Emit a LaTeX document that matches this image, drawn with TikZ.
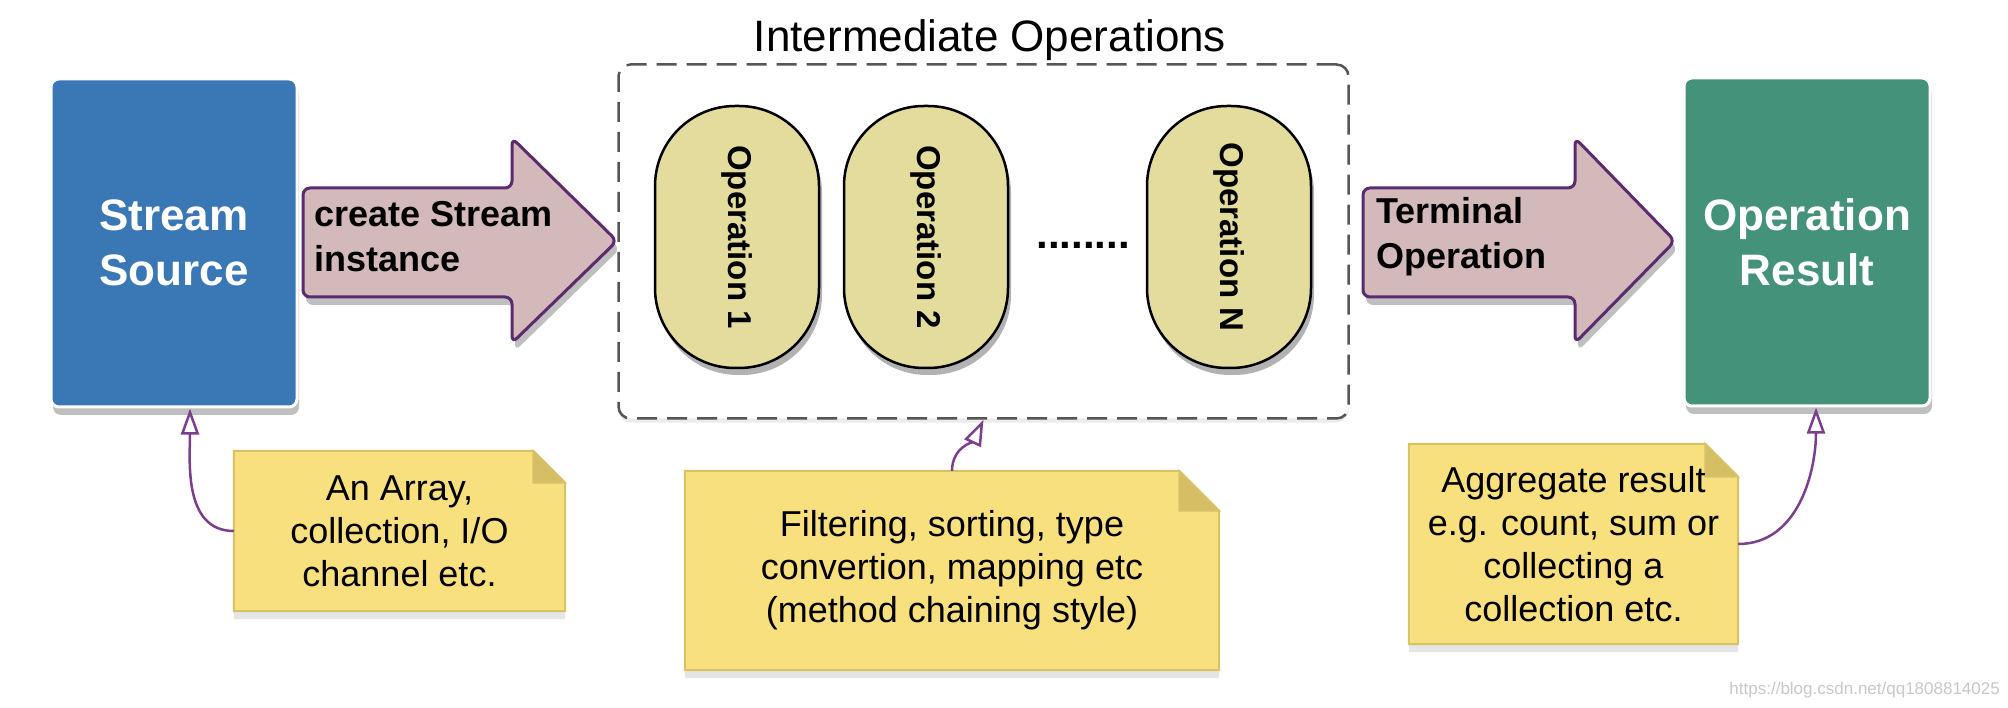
\documentclass[tikz,border=0pt]{standalone}
\usepackage{fontspec}
\usepackage{graphicx}
\setmainfont{Liberation Sans}
\usetikzlibrary{shadows,arrows.meta,backgrounds}

\definecolor{srcblue}{HTML}{3A78B5}
\definecolor{resgreen}{HTML}{45927A}
\definecolor{arrowfill}{HTML}{D3B9BA}
\definecolor{arrowline}{HTML}{5C2A6E}
\definecolor{capfill}{HTML}{E3DC9C}
\definecolor{notefill}{HTML}{F9E07F}
\definecolor{noteline}{HTML}{D8C267}
\definecolor{notefold}{HTML}{D5BE63}
\definecolor{linkcol}{HTML}{7B3F8E}
\definecolor{dashcol}{HTML}{555555}
\definecolor{wmgray}{HTML}{C8C8C8}

\tikzset{
  bigbox/.style={draw=white, line width=3pt, rounded corners=8pt,
    minimum width=246pt, minimum height=328pt, text=white, align=center,
    font=\fontsize{44}{55}\selectfont\bfseries,
    drop shadow={shadow xshift=2pt, shadow yshift=-8pt, opacity=0.25, fill=black}},
  ibox/.style={draw=dashcol, line width=2.5pt, dash pattern=on 20pt off 10pt,
    rounded corners=12pt, fill=white, minimum width=730pt, minimum height=354pt,
    drop shadow={shadow xshift=0pt, shadow yshift=-4pt, opacity=0.08, fill=black}},
  titletext/.style={font=\fontsize{44}{52}\selectfont, inner sep=0pt},
  capsule/.style={draw=black, line width=2.5pt, fill=capfill, rounded corners=80pt,
    minimum width=164pt, minimum height=262pt, inner sep=0pt,
    font=\fontsize{33}{40}\selectfont\bfseries,
    drop shadow={shadow xshift=3pt, shadow yshift=-7pt, opacity=0.3, fill=black}},
  dotstext/.style={font=\fontsize{42}{50}\selectfont\bfseries, inner sep=0pt},
  bigarrow/.style={draw=arrowline, line width=3pt, fill=arrowfill, rounded corners=7pt,
    drop shadow={shadow xshift=3pt, shadow yshift=-8pt, opacity=0.25, fill=black}},
  arrowtext/.style={font=\fontsize{36}{45}\selectfont\bfseries, align=left, inner sep=0pt},
  notetext/.style={font=\fontsize{36}{43}\selectfont, align=center, inner sep=0pt},
  notebody/.style={fill=notefill, draw=noteline, line width=2pt,
    drop shadow={shadow xshift=0pt, shadow yshift=-8pt, opacity=0.1, fill=black}},
  notefoldst/.style={fill=notefold, draw=noteline, line width=1.5pt},
  link/.style={draw=linkcol, line width=2.5pt,
    -{Triangle[length=26pt, width=18pt, fill=white, line width=2.5pt]}},
}

\begin{document}
\begin{tikzpicture}[x=1pt,y=-1pt]
\useasboundingbox (0,0) rectangle (2008,708);

% intermediate container
\node[ibox] (ibox) at (983.5,241.5) {};
\node[titletext, anchor=base] (title) at (990,52) {Intermediate Operations};

% source and result boxes
\node[bigbox, fill=srcblue] (src) at (174,243) {Stream\\Source};
\node[bigbox, fill=resgreen] (res) at (1807,242) {Operation\\Result};

% operations
\node[capsule] (op1) at (737,237) {\rotatebox{-90}{Operation 1}};
\node[capsule] (op2) at (926,237) {\rotatebox{-90}{Operation 2}};
\node[capsule] (opn) at (1229,237) {\rotatebox{-90}{Operation N}};
\node[dotstext, anchor=base] (dots) at (1083,249) {........};

% big arrows
\coordinate (a1s) at (303,242);
\coordinate (a1t) at (617,241);
\draw[bigarrow] (303,188) -- (512,188) -- (512,138) -- (a1t) -- (512,343) -- (512,297) -- (303,297) -- cycle;
\node[arrowtext, anchor=west] (lab1) at (314,237) {create Stream\\instance};

\coordinate (a2s) at (1363,242);
\coordinate (a2t) at (1675,241);
\draw[bigarrow] (1363,188) -- (1575,188) -- (1575,138) -- (a2t) -- (1575,343) -- (1575,297) -- (1363,297) -- cycle;
\node[arrowtext, anchor=west] (lab2) at (1376,237) {Terminal\\Operation};

% notes (text nodes)
\node[notetext, minimum width=331pt, minimum height=160pt] (n1) at (399.5,531)
  {An Array,\\collection, I/O\\channel etc.};
\node[notetext, minimum width=534pt, minimum height=199pt] (n2) at (952,570.5)
  {Filtering, sorting, type\\convertion, mapping etc\\(method chaining style)};
\node[notetext, minimum width=329pt, minimum height=200pt] (n3) at (1573.5,544)
  {Aggregate result\\e.g. count, sum or\\collecting a\\collection etc.};

% watermark
\node[anchor=east, text=wmgray, font=\fontsize{17}{20}\selectfont, inner sep=0pt] (wm) at (2000,690)
  {https://blog.csdn.net/qq1808814025};

% note connectors
\draw[link] (n1.west) to[out=180, in=-90] ([xshift=16pt]src.south);
\draw[link] (n2.north) to[out=90, in=-115] (ibox.south);
\draw[link] (n3.east) to[out=0, in=-90] ([xshift=9pt]res.south);

% note shapes behind the text
\begin{scope}[on background layer]
  \fill[white] (0,0) rectangle (2008,708);
  \foreach \n/\f in {n1/32, n2/40, n3/33}{
    \filldraw[notebody] (\n.north west) -- ([xshift=-\f pt]\n.north east)
      -- ([yshift=-\f pt]\n.north east) -- (\n.south east) -- (\n.south west) -- cycle;
    \filldraw[notefoldst] ([xshift=-\f pt]\n.north east) -- ([xshift=-\f pt, yshift=-\f pt]\n.north east)
      -- ([yshift=-\f pt]\n.north east) -- cycle;
  }
\end{scope}
\end{tikzpicture}
\end{document}
